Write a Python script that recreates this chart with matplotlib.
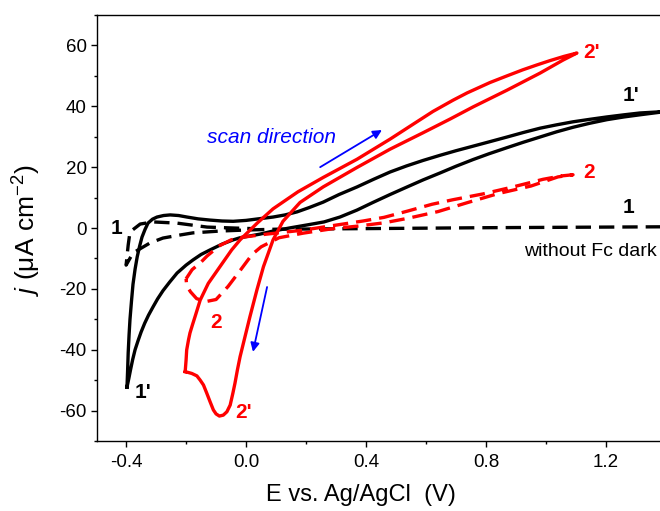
import matplotlib
matplotlib.use("Agg")
import matplotlib.pyplot as plt
from matplotlib.ticker import MultipleLocator

plt.rcParams['font.family'] = ['Liberation Sans', 'DejaVu Sans']
plt.rcParams['mathtext.fontset'] = 'custom'
plt.rcParams['mathtext.rm'] = 'Liberation Sans'
plt.rcParams['mathtext.it'] = 'Liberation Sans:italic'

# ---- data ----
# curve 1' (black solid CV loop): anodic branch then cathodic branch
e_1p = [-0.397, -0.395, -0.393, -0.39, -0.387, -0.382, -0.377, -0.37, -0.363, -0.355,
        -0.347, -0.337, -0.327, -0.312, -0.297, -0.275, -0.253, -0.225, -0.197, -0.16,
        -0.12, -0.08, -0.043, 0.0, 0.04, 0.09, 0.13, 0.17, 0.21, 0.257, 0.31, 0.37,
        0.425, 0.48, 0.535, 0.59, 0.647, 0.70, 0.757, 0.81, 0.87, 0.925, 0.98, 1.035,
        1.09, 1.145, 1.203, 1.26, 1.313, 1.40,
        1.313, 1.26, 1.203, 1.145, 1.09, 1.035, 0.98, 0.925, 0.87, 0.81, 0.757, 0.70,
        0.647, 0.59, 0.537, 0.48, 0.423, 0.37, 0.313, 0.26, 0.203, 0.15, 0.09, 0.047,
        -0.02, -0.043, -0.08, -0.12, -0.15, -0.177, -0.20, -0.23, -0.255, -0.277,
        -0.295, -0.31, -0.325, -0.338, -0.35, -0.36, -0.37, -0.378, -0.385, -0.391,
        -0.397]
j_1p = [-52.3, -47.0, -41.0, -35.0, -30.0, -24.0, -18.5, -13.5, -9.5, -6.0,
        -3.0, -0.5, 1.6, 2.9, 3.6, 4.1, 4.3, 4.1, 3.6, 3.0,
        2.6, 2.3, 2.2, 2.5, 3.0, 3.6, 4.3, 5.3, 6.7, 8.5, 11.0, 13.5,
        16.0, 18.4, 20.4, 22.2, 23.9, 25.4, 26.9, 28.3, 29.9, 31.4, 32.8, 33.9,
        34.9, 35.7, 36.5, 37.2, 37.8, 38.3,
        37.2, 36.5, 35.6, 34.4, 33.1, 31.6, 29.9, 28.2, 26.4, 24.4, 22.5, 20.3,
        18.1, 15.8, 13.5, 11.0, 8.4, 5.9, 3.6, 2.0, 1.0, 0.1, -1.0, -2.0,
        -3.2, -3.9, -5.3, -7.2, -8.7, -10.5, -12.2, -14.8, -17.8, -20.6,
        -23.3, -25.9, -28.6, -31.3, -34.2, -37.0, -40.0, -43.2, -46.5, -49.5,
        -52.3]

# curve 1 (black dashed, without Fc, dark)
e_1 = [1.40, 1.2, 0.8, 0.4, 0.1, 0.0, -0.087, -0.177, -0.22, -0.277, -0.32, -0.377, -0.40,
       -0.393, -0.387, -0.353, -0.31, -0.23, -0.13, -0.043, 0.02]
j_1 = [0.4, 0.3, 0.1, -0.2, -0.4, -0.66, -1.0, -1.6, -2.3, -3.3, -4.9, -8.2, -12.2,
       -5.6, -1.3, 1.3, 2.0, 1.6, 0.3, 0.0, -0.2]

# curve 2' (red solid CV loop)
e_2p = [-0.203, -0.2, -0.198, -0.192, -0.187, -0.179, -0.17, -0.153, -0.126, -0.087,
        -0.048, -0.02, 0.037, 0.09, 0.173, 0.257, 0.37, 0.48, 0.56, 0.623, 0.69,
        0.737, 0.813, 0.87, 0.923, 0.97, 1.013, 1.06, 1.103,
        1.057, 0.98, 0.87, 0.757, 0.68, 0.59, 0.48, 0.37, 0.257, 0.18, 0.123,
        0.09, 0.058, 0.036, 0.013, 0.002, -0.009, -0.02, -0.029, -0.037, -0.044, -0.053,
        -0.064, -0.076, -0.089, -0.1, -0.109, -0.12, -0.131, -0.142, -0.153, -0.164,
        -0.181, -0.203]
j_2p = [-47.2, -43.4, -40.1, -36.8, -34.5, -31.9, -29.1, -23.7, -18.2, -12.7,
        -7.2, -3.9, 1.6, 6.3, 11.9, 16.6, 22.6, 29.2, 34.3, 38.3, 42.0,
        44.4, 47.8, 50.0, 52.0, 53.6, 55.0, 56.4, 57.5,
        55.2, 50.9, 45.3, 39.8, 35.8, 31.3, 25.9, 19.9, 13.5, 8.4, 2.2,
        -3.9, -12.7, -20.4, -29.1, -33.5, -37.9, -42.3, -46.7, -51.0, -54.3, -58.2,
        -60.4, -61.5, -61.8, -61.1, -59.8, -57.1, -54.3, -51.6, -50.0, -48.6,
        -47.8, -47.2]

# curve 2 (red dashed)
e_2 = [-0.2, -0.18, -0.15, -0.13, -0.09, -0.05, -0.01, 0.07, 0.19, 0.29, 0.39, 0.46,
       0.54, 0.62, 0.69, 0.79, 0.89, 0.99, 1.05, 1.09,
       1.04, 0.95, 0.84, 0.74, 0.64, 0.54, 0.46, 0.37, 0.29, 0.19, 0.11, 0.05, 0.02,
       -0.02, -0.06, -0.10, -0.135, -0.165, -0.185, -0.198, -0.2]
j_2 = [-16.7, -13.7, -11.2, -9.2, -5.9, -3.9, -3.0, -2.0, -0.7, 0.8, 2.3, 3.5,
       5.6, 7.8, 9.3, 11.2, 13.5, 16.0, 17.1, 17.5,
       16.8, 13.8, 11.3, 8.4, 5.4, 3.2, 1.7, 0.6, -0.2, -1.7, -3.2, -6.2, -8.7,
       -14.0, -19.2, -23.5, -24.2, -23.2, -21.0, -19.0, -16.7]

x_ticks = [-0.4, 0.0, 0.4, 0.8, 1.2]
x_ticklabels = ['-0.4', '0.0', '0.4', '0.8', '1.2']
y_ticks = [-60, -40, -20, 0, 20, 40, 60]
y_ticklabels = ['-60', '-40', '-20', '0', '20', '40', '60']

# ---- figure ----
W, H = 660, 511
fig = plt.figure(figsize=(6.6, 5.11), dpi=100)
ax = fig.add_axes([97 / W, (H - 441) / H, (W - 97) / W, (441 - 15) / H])

lw = 2.4
dash = (0, (4.6, 2.4))
common = dict(lw=lw, solid_joinstyle='round', dash_joinstyle='round')
ax.plot(e_1, j_1, color='black', linestyle=dash, zorder=2, **common)
ax.plot(e_1p, j_1p, color='black', zorder=3, **common)
ax.plot(e_2, j_2, color='#ff0000', linestyle=dash, zorder=4, **common)
ax.plot(e_2p, j_2p, color='#ff0000', zorder=5, **common)

ax.set_xlim(-0.497, 1.38)
ax.set_ylim(-70, 70)
ax.set_xticks(x_ticks)
ax.set_xticklabels(x_ticklabels)
ax.set_yticks(y_ticks)
ax.set_yticklabels(y_ticklabels)
ax.xaxis.set_minor_locator(MultipleLocator(0.2))
ax.yaxis.set_minor_locator(MultipleLocator(10))
ax.tick_params(which='major', direction='out', length=4.5, width=1.0, labelsize=13.5,
               pad=3, top=False, right=False)
ax.tick_params(which='minor', direction='out', length=2.5, width=1.0, top=False, right=False)
ax.tick_params(axis='x', which='major', pad=5)
ax.spines['right'].set_visible(False)
for s in ['left', 'bottom', 'top']:
    ax.spines[s].set_linewidth(1.0)

fig.text(361 / W, 1 - 495 / H, 'E vs. Ag/AgCl  (V)', fontsize=17, ha='center', va='center')
fig.text(27 / W, 1 - 230 / H, r'$j$ (μA cm$^{-2}$)', fontsize=19, rotation=90,
         ha='center', va='center')

red = '#ff0000'
kw = dict(fontsize=15, fontweight='bold', va='center', ha='left')
ax.text(1.123, 57.8, "2'", color=red, **kw)
ax.text(1.257, 43.7, "1'", color='black', **kw)
ax.text(1.123, 18.1, "2", color=red, **kw)
ax.text(1.257, 6.6, "1", color='black', **kw)
ax.text(-0.453, 0.0, "1", color='black', **kw)
ax.text(-0.37, -53.9, "1'", color='black', **kw)
ax.text(-0.037, -60.5, "2'", color=red, **kw)
ax.text(-0.12, -30.9, "2", color=red, **kw)
ax.text(1.37, -7.6, 'without Fc dark', fontsize=14, ha='right', va='center', color='black')
ax.text(-0.13, 29.9, 'scan direction', fontsize=15, style='italic', color='#0000ff',
        ha='left', va='center')

ap = dict(arrowstyle='-|>', color='#0000ff', lw=1.3, mutation_scale=13, shrinkA=0, shrinkB=0)
ax.annotate('', xy=(0.453, 32.2), xytext=(0.247, 20.0), arrowprops=ap)
ax.annotate('', xy=(0.023, -40.7), xytext=(0.07, -19.4), arrowprops=ap)

fig.savefig('out.png', dpi=100)
